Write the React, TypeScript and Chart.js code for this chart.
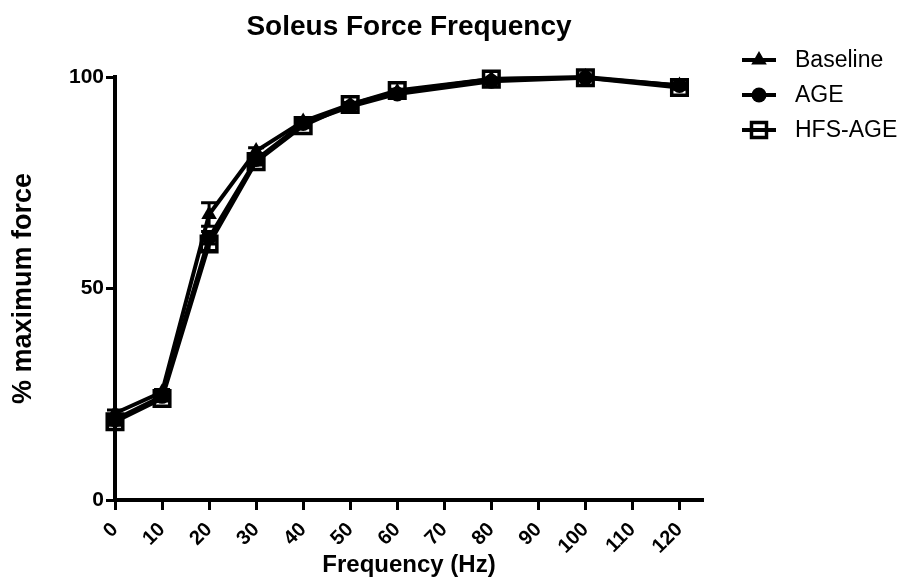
import React, { useEffect, useRef } from 'react';
import { Chart, registerables } from 'chart.js';

Chart.register(...registerables);

// Stimulation frequencies (Hz) and normalised force responses
const FREQUENCIES = [0, 10, 20, 30, 40, 50, 60, 80, 100, 120];
const X_TICKS = [0, 10, 20, 30, 40, 50, 60, 70, 80, 90, 100, 110, 120];
const Y_TICKS = [0, 50, 100];

const BASELINE = [20.5, 25.5, 67.5, 82.5, 89.5, 93.5, 96.5, 99.5, 100, 98];
const BASELINE_SEM = [0.8, 0.6, 2.8, 0.8, 0.5, 0.4, 0.3, 0.2, 0.1, 0.4];
const AGE = [19, 24.5, 62, 80.5, 89, 93, 96, 99, 99.8, 98];
const AGE_SEM = [0.8, 0.6, 1.5, 0.8, 0.5, 0.4, 0.3, 0.2, 0.1, 0.4];
const HFS_AGE = [18.5, 24, 60.5, 80, 88.5, 93.5, 96.8, 99.5, 99.8, 97.5];
const HFS_AGE_SEM = [0.8, 0.6, 1.5, 0.8, 0.5, 0.4, 0.3, 0.2, 0.1, 0.4];

const SERIES_LABELS = ['Baseline', 'AGE', 'HFS-AGE'];
const TITLE = 'Soleus Force Frequency';
const X_TITLE = 'Frequency (Hz)';
const Y_TITLE = '% maximum force';

const FONT = '"Liberation Sans", Arial, Helvetica, sans-serif';
const INK = '#000000';

type Marker = 'triangle' | 'circle' | 'rect';

function drawMarker(ctx: CanvasRenderingContext2D, kind: Marker, x: number, y: number) {
  ctx.save();
  ctx.fillStyle = INK;
  ctx.strokeStyle = INK;
  if (kind === 'triangle') {
    const r = 9;
    ctx.beginPath();
    for (let i = 0; i < 3; i++) {
      const a = (i * 2 * Math.PI) / 3;
      const px = x + Math.sin(a) * r;
      const py = y - Math.cos(a) * r;
      if (i === 0) ctx.moveTo(px, py);
      else ctx.lineTo(px, py);
    }
    ctx.closePath();
    ctx.fill();
  } else if (kind === 'circle') {
    ctx.beginPath();
    ctx.arc(x, y, 7.5, 0, Math.PI * 2);
    ctx.fill();
  } else {
    ctx.lineWidth = 3.5;
    ctx.strokeRect(x - 7.5, y - 7.5, 15, 15);
  }
  ctx.restore();
}

function toPoints(values: number[]) {
  return FREQUENCIES.map((f, i) => ({ x: f, y: values[i] }));
}

const MARKERS: Marker[] = ['triangle', 'circle', 'rect'];
const SEMS = [BASELINE_SEM, AGE_SEM, HFS_AGE_SEM];

// Vertical SEM bars with caps, drawn beneath the markers
const errorBars = {
  id: 'errorBars',
  beforeDatasetsDraw(chart: any) {
    const { ctx } = chart;
    const yScale = chart.scales.y;
    ctx.save();
    ctx.strokeStyle = INK;
    ctx.lineWidth = 3;
    chart.data.datasets.forEach((ds: any, di: number) => {
      const meta = chart.getDatasetMeta(di);
      const sem = SEMS[di];
      meta.data.forEach((pt: any, i: number) => {
        const v = ds.data[i].y;
        const top = yScale.getPixelForValue(v + sem[i]);
        const bottom = yScale.getPixelForValue(v - sem[i]);
        ctx.beginPath();
        ctx.moveTo(pt.x, top);
        ctx.lineTo(pt.x, bottom);
        ctx.moveTo(pt.x - 8, top);
        ctx.lineTo(pt.x + 8, top);
        ctx.moveTo(pt.x - 8, bottom);
        ctx.lineTo(pt.x + 8, bottom);
        ctx.stroke();
      });
    });
    ctx.restore();
  },
};

// Chart title and the symbol key at the right
const decorations = {
  id: 'decorations',
  afterDraw(chart: any) {
    const { ctx, chartArea } = chart;
    ctx.save();
    ctx.fillStyle = INK;
    ctx.font = `bold 28px ${FONT}`;
    ctx.textAlign = 'center';
    ctx.textBaseline = 'middle';
    ctx.fillText(TITLE, (chartArea.left + chartArea.right) / 2, 27);

    const rows = [60, 95, 130];
    chart.data.datasets.forEach((ds: any, i: number) => {
      const y = rows[i];
      ctx.strokeStyle = INK;
      ctx.lineWidth = 4;
      ctx.beginPath();
      ctx.moveTo(742, y);
      ctx.lineTo(776, y);
      ctx.stroke();
      drawMarker(ctx, MARKERS[i], 759, y);
      ctx.fillStyle = INK;
      ctx.font = `23px ${FONT}`;
      ctx.textAlign = 'left';
      ctx.textBaseline = 'middle';
      ctx.fillText(ds.label, 795, y + 1);
    });
    ctx.restore();
  },
};

export default function App() {
  const canvasRef = useRef<HTMLCanvasElement | null>(null);

  useEffect(() => {
    const canvas = canvasRef.current;
    if (!canvas) return;

    const common = {
      borderColor: INK,
      borderWidth: 4,
      pointBorderColor: INK,
      pointHoverRadius: 0,
      fill: false,
      tension: 0,
      clip: false as const,
    };

    const chart = new Chart(canvas, {
      type: 'line',
      data: {
        datasets: [
          {
            ...common,
            label: SERIES_LABELS[0],
            data: toPoints(BASELINE),
            pointStyle: 'triangle',
            pointRadius: 9,
            pointBorderWidth: 0,
            pointBackgroundColor: INK,
            order: 2,
          },
          {
            ...common,
            label: SERIES_LABELS[1],
            data: toPoints(AGE),
            pointStyle: 'circle',
            pointRadius: 7.5,
            pointBorderWidth: 0,
            pointBackgroundColor: INK,
            order: 1,
          },
          {
            ...common,
            label: SERIES_LABELS[2],
            data: toPoints(HFS_AGE),
            pointStyle: 'rect',
            pointRadius: 11,
            pointBorderWidth: 3.5,
            pointBackgroundColor: 'rgba(0,0,0,0)',
            order: 0,
          },
        ],
      },
      options: {
        animation: false,
        responsive: false,
        layout: { padding: { left: 0, top: 77, right: 199, bottom: 0 } },
        plugins: {
          legend: { display: false },
          tooltip: { enabled: false },
          title: { display: false },
        },
        scales: {
          x: {
            type: 'linear',
            min: 0,
            max: 125,
            afterBuildTicks: (scale: any) => {
              scale.ticks = X_TICKS.map((v) => ({ value: v }));
            },
            afterFit: (scale: any) => {
              scale.height = 88;
            },
            grid: {
              drawOnChartArea: false,
              drawTicks: true,
              tickLength: 10,
              tickWidth: 3,
              tickColor: INK,
            },
            border: { display: true, width: 4, color: INK },
            ticks: {
              autoSkip: false,
              minRotation: 45,
              maxRotation: 45,
              padding: 8,
              color: INK,
              font: { family: FONT, size: 20, weight: 'bold' },
            },
            title: {
              display: true,
              text: X_TITLE,
              color: INK,
              font: { family: FONT, size: 24, weight: 'bold' },
              padding: { top: 0, bottom: 8 },
            },
          },
          y: {
            type: 'linear',
            min: 0,
            max: 100,
            afterBuildTicks: (scale: any) => {
              scale.ticks = Y_TICKS.map((v) => ({ value: v }));
            },
            afterFit: (scale: any) => {
              scale.width = 115;
            },
            grid: {
              drawOnChartArea: false,
              drawTicks: true,
              tickLength: 9,
              tickWidth: 3,
              tickColor: INK,
            },
            border: { display: true, width: 4, color: INK },
            ticks: {
              padding: 2,
              color: INK,
              font: { family: FONT, size: 21, weight: 'bold' },
            },
            title: {
              display: true,
              text: Y_TITLE,
              color: INK,
              font: { family: FONT, size: 27, weight: 'bold' },
              padding: { top: 7, bottom: 0 },
            },
          },
        },
      },
      plugins: [errorBars, decorations],
    });

    return () => chart.destroy();
  }, []);

  return (
    <div style={{ position: 'fixed', left: 0, top: 0, width: 902, height: 588, background: '#ffffff' }}>
      <canvas ref={canvasRef} width={902} height={588} style={{ display: 'block' }} />
    </div>
  );
}
